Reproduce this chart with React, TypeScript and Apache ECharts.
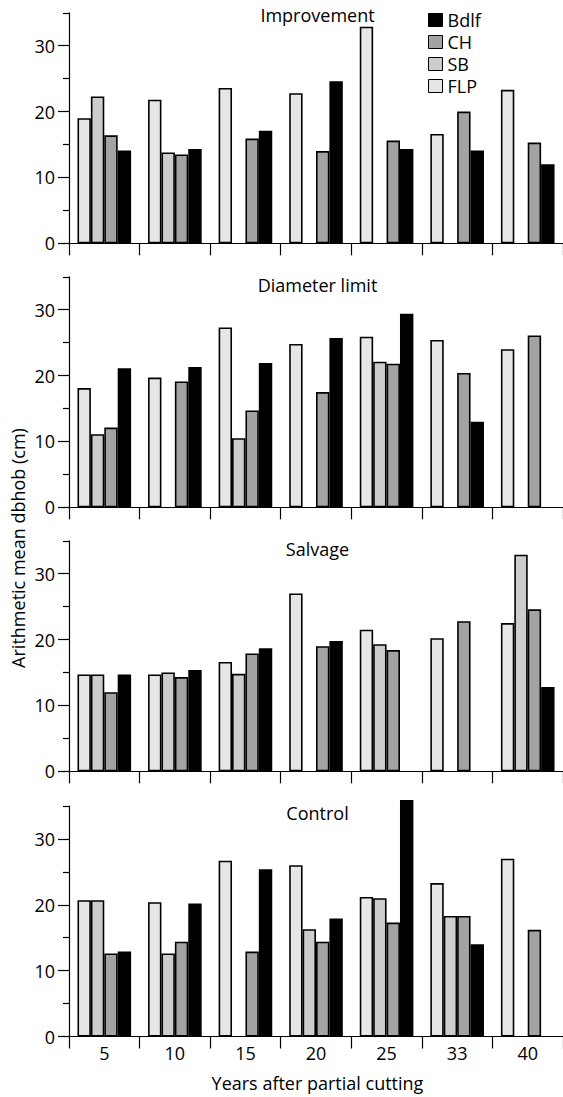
import React, { useEffect, useRef } from "react";
import * as echarts from "echarts";

const categories = ["5", "10", "15", "20", "25", "33", "40"];
const seriesNames = ["FLP", "SB", "CH", "Bdlf"];
const legendOrder = ["Bdlf", "CH", "SB", "FLP"];
const colors: Record<string, string> = { FLP: "#e6e6e6", SB: "#cdcdcd", CH: "#a3a3a3", Bdlf: "#000000" };
const panelTitles = ["Improvement", "Diameter limit", "Salvage", "Control"];
const yLabelValues = [0, 10, 20, 30];
const yMinorValues = [5, 15, 25, 35];

const improvementFLP = [19.0, 21.8, 23.6, 22.8, 32.9, 16.6, 23.3];
const improvementSB = [22.3, 13.8, null, null, null, null, null];
const improvementCH = [16.4, 13.5, 15.9, 14.0, 15.6, 20.0, 15.3];
const improvementBdlf = [14.1, 14.3, 17.1, 24.6, 14.3, 14.1, 12.0];

const diameterFLP = [18.1, 19.7, 27.3, 24.8, 25.9, 25.4, 24.0];
const diameterSB = [11.1, null, 10.5, null, 22.1, null, null];
const diameterCH = [12.1, 19.1, 14.7, 17.5, 21.8, 20.4, 26.1];
const diameterBdlf = [21.1, 21.3, 21.9, 25.7, 29.4, 13.0, null];

const salvageFLP = [14.7, 14.7, 16.6, 27.0, 21.5, 20.2, 22.5];
const salvageSB = [14.7, 15.0, 14.8, null, 19.3, null, 32.9];
const salvageCH = [12.0, 14.3, 17.9, 19.0, 18.4, 22.8, 24.6];
const salvageBdlf = [14.7, 15.4, 18.7, 19.8, null, null, 12.8];

const controlFLP = [20.7, 20.4, 26.7, 26.0, 21.2, 23.3, 27.0];
const controlSB = [20.7, 12.6, null, 16.3, 21.0, 18.3, null];
const controlCH = [12.6, 14.4, 12.9, 14.4, 17.3, 18.3, 16.2];
const controlBdlf = [12.9, 20.2, 25.4, 17.9, 35.9, 14.0, null];

const panels = [
  [improvementFLP, improvementSB, improvementCH, improvementBdlf],
  [diameterFLP, diameterSB, diameterCH, diameterBdlf],
  [salvageFLP, salvageSB, salvageCH, salvageBdlf],
  [controlFLP, controlSB, controlCH, controlBdlf],
];

const FONT = "Open Sans";
const GRID_LEFT = 69;
const GRID_WIDTH = 497;
const GRID_HEIGHT = 230.5;
const gridTops = [12.8, 276.8, 540.8, 806];
const titleCenters = [15, 285, 549, 813];

export default function App() {
  const ref = useRef<HTMLDivElement>(null);
  useEffect(() => {
    if (!ref.current) return;
    const chart = echarts.init(ref.current, undefined, { renderer: "svg" });
    const grid: any[] = [];
    const xAxis: any[] = [];
    const yAxis: any[] = [];
    const series: any[] = [];
    panels.forEach((panel, i) => {
      grid.push({ left: GRID_LEFT, top: gridTops[i], width: GRID_WIDTH, height: GRID_HEIGHT });
      xAxis.push({
        type: "category",
        gridIndex: i,
        data: categories,
        boundaryGap: true,
        axisLine: { lineStyle: { color: "#000", width: 1.2 } },
        axisTick: { show: true, length: 12, alignWithLabel: false, interval: 0, lineStyle: { color: "#000", width: 1.2 } },
        axisLabel: { show: i === 3, color: "#000", fontFamily: FONT, fontSize: 18, margin: 7, interval: 0 },
        splitLine: { show: false },
      });
      yAxis.push({
        type: "value",
        gridIndex: i,
        position: "left",
        min: 0,
        max: 35,
        axisLine: { show: true, lineStyle: { color: "#000", width: 1.2 } },
        axisTick: { show: true, length: 11, customValues: yLabelValues, lineStyle: { color: "#000", width: 1.2 } },
        axisLabel: { show: true, customValues: yLabelValues, color: "#000", fontFamily: FONT, fontSize: 18, margin: 14 },
        splitLine: { show: false },
      });
      yAxis.push({
        type: "value",
        gridIndex: i,
        position: "left",
        offset: 0,
        min: 0,
        max: 35,
        axisLine: { show: false },
        axisTick: { show: true, length: 6, customValues: yMinorValues, lineStyle: { color: "#000", width: 1.2 } },
        axisLabel: { show: false },
        splitLine: { show: false },
      });
      panel.forEach((values, j) => {
        const name = seriesNames[j];
        series.push({
          type: "bar",
          name,
          xAxisIndex: i,
          yAxisIndex: i * 2,
          data: values,
          barGap: "0%",
          barCategoryGap: "24%",
          clip: false,
          itemStyle: { color: colors[name], borderColor: "#000", borderWidth: 1.6 },
          emphasis: { disabled: true },
        });
      });
    });
    const textGraphics: any[] = panelTitles.map((t, i) => ({
      type: "text",
      x: GRID_LEFT + GRID_WIDTH / 2,
      y: titleCenters[i],
      style: { text: t, fill: "#000", fontFamily: FONT, fontSize: 18, align: "center", verticalAlign: "middle" },
    }));
    textGraphics.push({
      type: "text",
      x: GRID_LEFT + GRID_WIDTH / 2,
      y: 1083,
      style: { text: "Years after partial cutting", fill: "#000", fontFamily: FONT, fontSize: 18, align: "center", verticalAlign: "middle" },
    });
    textGraphics.push({
      type: "text",
      x: 18,
      y: 548,
      rotation: Math.PI / 2,
      style: { text: "Arithmetic mean dbhob (cm)", fill: "#000", fontFamily: FONT, fontSize: 18, align: "center", verticalAlign: "middle" },
    });

    chart.setOption({
      animation: false,
      grid,
      xAxis,
      yAxis,
      series,
      legend: {
        data: legendOrder,
        orient: "vertical",
        left: 423,
        top: 6,
        itemWidth: 14,
        itemHeight: 13,
        itemGap: 4,
        icon: "rect",
        selectedMode: false,
        textStyle: { color: "#000", fontFamily: FONT, fontSize: 18, padding: [0, 0, 0, 0] },
        itemStyle: { borderColor: "#000", borderWidth: 1 },
      },
      graphic: textGraphics,
    });
    return () => chart.dispose();
  }, []);
  return <div ref={ref} style={{ position: "fixed", left: 0, top: 0, width: 563, height: 1097, background: "#fff" }} />;
}
